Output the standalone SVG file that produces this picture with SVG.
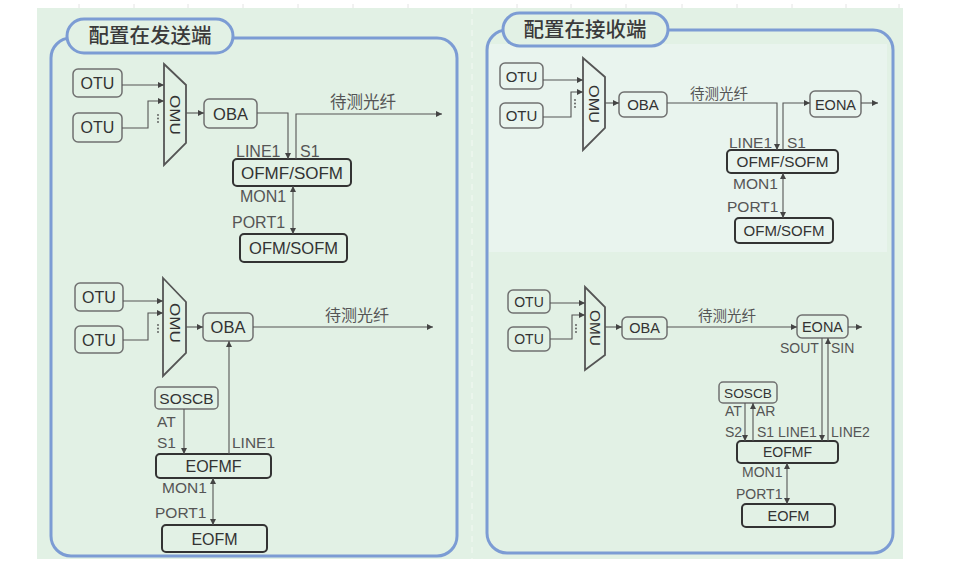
<svg xmlns="http://www.w3.org/2000/svg" width="954" height="576" viewBox="0 0 954 576">
<style>
.bg{fill:#e2f1e5}
.panel{fill:none;stroke:#7c9cd4;stroke-width:3}
.pill{fill:#e2f1e5;stroke:#7c9cd4;stroke-width:3}
.title{font-family:"Noto Sans CJK SC","Noto Sans",sans-serif;font-size:20.5px;font-weight:500;fill:#3a3a3a;text-anchor:middle}
.box{fill:none;stroke:#707070;stroke-width:1.5}
.boxb{fill:none;stroke:#333;stroke-width:2}
.t{font-family:"Liberation Sans",Arial,sans-serif;fill:#333;text-anchor:middle}
.lb{font-family:"Liberation Sans",Arial,sans-serif;fill:#555}
.cj{font-family:"Noto Sans CJK SC",sans-serif;fill:#555}
.cn path{fill:none;stroke:#555;stroke-width:1.1}
.omu{fill:none;stroke:#555;stroke-width:1.8}
.dot{fill:#555}
.tick{stroke:#e4e4e4;stroke-width:1}
</style>
<defs>
<marker id="ar" markerUnits="userSpaceOnUse" markerWidth="7" markerHeight="6" refX="6" refY="3" orient="auto-start-reverse">
<path d="M0,0 L6,3 L0,6 z" fill="#444"/>
</marker>
</defs>
<rect width="954" height="576" fill="#ffffff"/>
<g id="ticks">
<path class="tick" d="M79,4V8M134,4V8M188,4V8M243,4V8M298,4V8M353,4V8M408,4V8M517,4V8M571,4V8M626,4V8M682,4V8M737,4V8M792,4V8M846,4V8M899,4V8"/>
</g>
<rect class="bg" x="37" y="8" width="866" height="551"/>
<path d="M472,8V559" stroke="#ffffff" stroke-width="1" stroke-dasharray="6 5" opacity="0.6"/>
<rect x="489" y="44" width="398" height="208" fill="#e9f4ee"/>

<g id="panel-send">
<rect class="panel" x="51" y="38" width="406" height="518" rx="20"/>
<rect class="pill" x="67" y="19" width="166" height="34" rx="17"/>
<text class="title" x="150" y="43">配置在发送端</text>
</g>
<g id="panel-recv">
<rect class="panel" x="487" y="30" width="406" height="523" rx="20"/>
<rect class="pill" x="503" y="13" width="165" height="33" rx="16.5"/>
<text class="title" x="585" y="37">配置在接收端</text>
</g>

<!-- Left top -->
<g id="lt-otu1"><rect class="box" x="73" y="69" width="49" height="28" rx="5"/><text class="t" x="97.5" y="89" font-size="16">OTU</text></g>
<g id="lt-otu2"><rect class="box" x="73" y="113" width="49" height="29" rx="5"/><text class="t" x="97.5" y="133" font-size="16">OTU</text></g>
<g id="lt-omu"><polygon class="omu" points="164,64 186,85 186,143 164,165"/><text class="t" font-size="15" transform="translate(175,115) rotate(90)" y="5" textLength="40" lengthAdjust="spacingAndGlyphs">OMU</text></g>
<g id="lt-oba"><rect class="box" x="204" y="99" width="53" height="29" rx="5"/><text class="t" x="230.5" y="119.5" font-size="16.5">OBA</text></g>
<g id="lt-ofmf"><rect class="boxb" x="233" y="159" width="118" height="27" rx="4"/><text class="t" x="292" y="178.5" font-size="17">OFMF/SOFM</text></g>
<g id="lt-ofm"><rect class="boxb" x="240" y="234" width="107" height="28" rx="4"/><text class="t" x="293.5" y="254" font-size="16.5">OFM/SOFM</text></g>

<!-- Left bottom -->
<g id="lb-otu1"><rect class="box" x="75" y="283" width="48" height="28" rx="5"/><text class="t" x="99" y="303" font-size="16">OTU</text></g>
<g id="lb-otu2"><rect class="box" x="75" y="326" width="48" height="27" rx="5"/><text class="t" x="99" y="345.5" font-size="16">OTU</text></g>
<g id="lb-omu"><polygon class="omu" points="163,278 186,302 186,353 163,376"/><text class="t" font-size="15" transform="translate(175,323) rotate(90)" y="5" textLength="40" lengthAdjust="spacingAndGlyphs">OMU</text></g>
<g id="lb-oba"><rect class="box" x="203" y="313" width="50" height="28" rx="5"/><text class="t" x="228" y="333" font-size="16.5">OBA</text></g>
<g id="lb-soscb"><rect class="box" x="155" y="387" width="63" height="22" rx="4"/><text class="t" x="186.5" y="403.5" font-size="15.5">SOSCB</text></g>
<g id="lb-eofmf"><rect class="boxb" x="156" y="454" width="115" height="24" rx="4"/><text class="t" x="213.5" y="472" font-size="16">EOFMF</text></g>
<g id="lb-eofm"><rect class="boxb" x="162" y="525" width="105" height="27" rx="4"/><text class="t" x="214.5" y="544.5" font-size="16">EOFM</text></g>

<!-- Right top -->
<g id="rt-otu1"><rect class="box" x="500" y="63" width="43" height="26" rx="5"/><text class="t" x="521.5" y="81.5" font-size="15">OTU</text></g>
<g id="rt-otu2"><rect class="box" x="500" y="103" width="43" height="25" rx="5"/><text class="t" x="521.5" y="121" font-size="15">OTU</text></g>
<g id="rt-omu"><polygon class="omu" points="583,58 605,77 605,128 583,150"/><text class="t" font-size="14.5" transform="translate(594,104) rotate(90)" y="5" textLength="38" lengthAdjust="spacingAndGlyphs">OMU</text></g>
<g id="rt-oba"><rect class="box" x="619" y="92" width="48" height="25" rx="5"/><text class="t" x="643" y="110" font-size="15">OBA</text></g>
<g id="rt-eona"><rect class="box" x="810" y="91" width="51" height="26" rx="5"/><text class="t" x="835.5" y="109.5" font-size="14.5">EONA</text></g>
<g id="rt-ofmf"><rect class="boxb" x="727" y="150" width="111" height="23" rx="4"/><text class="t" x="782.5" y="167" font-size="15.3">OFMF/SOFM</text></g>
<g id="rt-ofm"><rect class="boxb" x="735" y="218" width="98" height="25" rx="4"/><text class="t" x="784" y="236" font-size="15">OFM/SOFM</text></g>

<!-- Right bottom -->
<g id="rb-otu1"><rect class="box" x="508" y="290" width="42" height="23" rx="5"/><text class="t" x="529" y="306.5" font-size="14">OTU</text></g>
<g id="rb-otu2"><rect class="box" x="508" y="327" width="42" height="24" rx="5"/><text class="t" x="529" y="344" font-size="14">OTU</text></g>
<g id="rb-omu"><polygon class="omu" points="585,287 605,307 605,355 585,370"/><text class="t" font-size="14" transform="translate(595,328) rotate(90)" y="5" textLength="36" lengthAdjust="spacingAndGlyphs">OMU</text></g>
<g id="rb-oba"><rect class="box" x="622" y="317" width="45" height="22" rx="5"/><text class="t" x="644.5" y="333.2" font-size="14.5">OBA</text></g>
<g id="rb-eona"><rect class="box" x="797" y="315" width="51" height="23" rx="5"/><text class="t" x="822.5" y="331.5" font-size="14.5">EONA</text></g>
<g id="rb-soscb"><rect class="box" x="719" y="382" width="58" height="21" rx="4"/><text class="t" x="748" y="397.5" font-size="13.7">SOSCB</text></g>
<g id="rb-eofmf"><rect class="boxb" x="737" y="441" width="101" height="22" rx="4"/><text class="t" x="787.5" y="457" font-size="14">EOFMF</text></g>
<g id="rb-eofm"><rect class="boxb" x="742" y="504" width="93" height="23" rx="4"/><text class="t" x="788.5" y="520.5" font-size="14.5">EOFM</text></g>

<g id="connectors" class="cn">
<!-- left top -->
<path d="M122,85 H164" marker-end="url(#ar)"/>
<path d="M122,128 H148 V101 H164" marker-end="url(#ar)"/>
<path d="M186,113 H204" marker-end="url(#ar)"/>
<path d="M257,113 H288 V159" marker-end="url(#ar)"/>
<path d="M296,159 V114 H442" marker-end="url(#ar)"/>
<path d="M293,186 V234" marker-start="url(#ar)" marker-end="url(#ar)"/>
<!-- left bottom -->
<path d="M123,301 H163" marker-end="url(#ar)"/>
<path d="M123,340 H148 V313 H163" marker-end="url(#ar)"/>
<path d="M186,327 H203" marker-end="url(#ar)"/>
<path d="M253,327 H433" marker-end="url(#ar)"/>
<path d="M184,409 V454" marker-end="url(#ar)"/>
<path d="M229,454 V341" marker-end="url(#ar)"/>
<path d="M213,478 V525" marker-start="url(#ar)" marker-end="url(#ar)"/>
<!-- right top -->
<path d="M543,80 H583" marker-end="url(#ar)"/>
<path d="M543,117 H571 V92 H583" marker-end="url(#ar)"/>
<path d="M605,103 H619" marker-end="url(#ar)"/>
<path d="M667,103 H777 V150" marker-end="url(#ar)"/>
<path d="M783,150 V103 H810" marker-end="url(#ar)"/>
<path d="M861,103 H878" marker-end="url(#ar)"/>
<path d="M783,173 V218" marker-start="url(#ar)" marker-end="url(#ar)"/>
<!-- right bottom -->
<path d="M550,303 H585" marker-end="url(#ar)"/>
<path d="M550,339 H572 V315 H585" marker-end="url(#ar)"/>
<path d="M605,327 H622" marker-end="url(#ar)"/>
<path d="M667,327 H797" marker-end="url(#ar)"/>
<path d="M848,327 H862" marker-end="url(#ar)"/>
<path d="M822,338 V441" marker-end="url(#ar)"/>
<path d="M828,441 V338" marker-end="url(#ar)"/>
<path d="M745,403 V441" marker-end="url(#ar)"/>
<path d="M753,441 V403" marker-end="url(#ar)"/>
<path d="M787,463 V504" marker-start="url(#ar)" marker-end="url(#ar)"/>
</g>

<g id="dots">
<circle class="dot" cx="158" cy="115" r="0.9"/><circle class="dot" cx="158" cy="118.5" r="0.9"/><circle class="dot" cx="158" cy="122" r="0.9"/>
<circle class="dot" cx="158" cy="325" r="0.9"/><circle class="dot" cx="158" cy="328.5" r="0.9"/><circle class="dot" cx="158" cy="332" r="0.9"/>
<circle class="dot" cx="575" cy="100" r="0.9"/><circle class="dot" cx="575" cy="103.5" r="0.9"/><circle class="dot" cx="575" cy="107" r="0.9"/>
<circle class="dot" cx="576" cy="325" r="0.9"/><circle class="dot" cx="576" cy="328.5" r="0.9"/><circle class="dot" cx="576" cy="332" r="0.9"/>
</g>

<g id="labels">
<text class="cj" x="330" y="108" font-size="16.5">待测光纤</text>
<text class="lb" x="236" y="157" font-size="16">LINE1</text>
<text class="lb" x="300" y="157" font-size="16">S1</text>
<text class="lb" x="240" y="202" font-size="16">MON1</text>
<text class="lb" x="232" y="228" font-size="16">PORT1</text>

<text class="cj" x="325" y="321" font-size="16">待测光纤</text>
<text class="lb" x="157" y="427" font-size="15.5">AT</text>
<text class="lb" x="157" y="448" font-size="15.5">S1</text>
<text class="lb" x="232" y="448" font-size="15.5">LINE1</text>
<text class="lb" x="162" y="493" font-size="15.5">MON1</text>
<text class="lb" x="155" y="518" font-size="15.5">PORT1</text>

<text class="cj" x="690" y="99" font-size="14.5">待测光纤</text>
<text class="lb" x="729" y="148" font-size="15.5">LINE1</text>
<text class="lb" x="787" y="148" font-size="15.5">S1</text>
<text class="lb" x="733" y="189" font-size="15.5">MON1</text>
<text class="lb" x="727" y="212" font-size="15.5">PORT1</text>

<text class="cj" x="698" y="321" font-size="14.5">待测光纤</text>
<text class="lb" x="780" y="353" font-size="14">SOUT</text>
<text class="lb" x="831" y="353" font-size="14">SIN</text>
<text class="lb" x="725" y="416" font-size="14">AT</text>
<text class="lb" x="756" y="416" font-size="14">AR</text>
<text class="lb" x="725" y="437" font-size="14">S2</text>
<text class="lb" x="757" y="437" font-size="14">S1</text>
<text class="lb" x="778" y="437" font-size="14">LINE1</text>
<text class="lb" x="831" y="437" font-size="14">LINE2</text>
<text class="lb" x="742" y="477" font-size="14">MON1</text>
<text class="lb" x="736" y="499" font-size="14">PORT1</text>
</g>
</svg>
